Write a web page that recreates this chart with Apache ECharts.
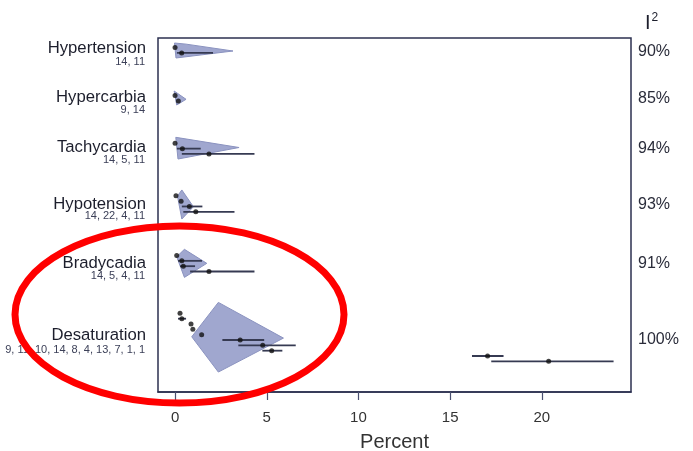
<!DOCTYPE html>
<html>
<head>
<meta charset="utf-8">
<script src="https://cdn.jsdelivr.net/npm/echarts@6/dist/echarts.min.js"></script>
<style>
html,body{margin:0;padding:0;background:#fff;}
#c{width:693px;height:451px;}
</style>
</head>
<body>
<div id="c"></div>
<script>
// ---- data ----
const groups = ['Hypertension','Hypercarbia','Tachycardia','Hypotension','Bradycadia','Desaturation'];
const studyLabels = ['14, 11','9, 14','14, 5, 11','14, 22, 4, 11','14, 5, 4, 11','9, 11, 10, 14, 8, 4, 13, 7, 1, 1'];
const i2Labels = ['90%','85%','94%','93%','91%','100%'];
const xTicks = [0, 5, 10, 15, 20];
const groupStartRow = [1.8, 10.8, 19.75, 29.6, 40.8, 51.65];
const estimates = [
  [0.0, 0.36],
  [0.0, 0.18],
  [0.0, 0.4, 1.85],
  [0.05, 0.33, 0.78, 1.13],
  [0.09, 0.37, 0.45, 1.85],
  [0.27, 0.37, 0.87, 0.97, 1.45, 3.55, 4.78, 5.27, 17.04, 20.37]
];
const lowerCI = [
  [0.0, 0.1],
  [0.0, 0.18],
  [0.0, 0.1, 0.37],
  [0.05, 0.33, 0.37, 0.45],
  [0.09, 0.16, 0.27, 0.82],
  [0.27, 0.16, 0.87, 0.97, 1.45, 2.58, 3.45, 4.76, 16.19, 17.24]
];
const upperCI = [
  [0.0, 2.07],
  [0.0, 0.18],
  [0.0, 1.4, 4.33],
  [0.05, 0.33, 1.49, 3.24],
  [0.09, 1.47, 1.09, 4.33],
  [0.27, 0.6, 0.87, 0.97, 1.45, 4.86, 6.58, 5.85, 17.91, 23.91]
];
const polyHypertension = [[-0.03,0.94],[0.6,1.15],[3.16,2.44],[0.05,3.75]];
const polyHypercarbia = [[-0.05,9.94],[0.6,11.5],[0.09,12.57]];
const polyTachycardia = [[0.04,18.63],[3.49,20.54],[0.16,22.7]];
const polyHypotension = [[0.37,28.5],[1.0,31.65],[0.37,33.96],[0.13,29.64]];
const polyBradycadia = [[0.51,39.64],[1.73,42.27],[0.51,44.9],[0.09,41.03]];
const polyDesaturation = [[2.36,49.59],[5.91,56.29],[2.36,62.66],[0.91,56.04]];
const polygons = [polyHypertension, polyHypercarbia, polyTachycardia, polyHypotension, polyBradycadia, polyDesaturation];

// ---- build ----
const studyRows = [];
groups.forEach((g, gi) => {
  estimates[gi].forEach((e, si) => {
    studyRows.push([groupStartRow[gi] + si, e, lowerCI[gi][si], upperCI[gi][si]]);
  });
});

const chart = echarts.init(document.getElementById('c'));
const lineColor = '#363a52';
const frameColor = '#2c3150';
const FONT = '"Liberation Sans", Arial, sans-serif';
const groupNameY = [48, 97, 147, 204, 263, 335];
const subY = [62, 110, 160, 216, 276, 350];
const i2Y = [52, 99, 149, 205, 264, 340];

const graphics = [];
groups.forEach((g, gi) => {
  graphics.push({type:'text', x:146, y:groupNameY[gi], style:{text:g, align:'right', verticalAlign:'middle', font:'16.7px ' + FONT, fill:'#1c1e2c'}});
  graphics.push({type:'text', x:145, y:subY[gi], style:{text:studyLabels[gi], align:'right', verticalAlign:'middle', font:'11px ' + FONT, fill:'#3c4058'}});
  graphics.push({type:'text', x:638, y:i2Y[gi], style:{text:i2Labels[gi], align:'left', verticalAlign:'middle', font:'16px ' + FONT, fill:'#2a2c3a'}});
});
graphics.push({type:'text', x:645, y:23, style:{text:'{a|I}{b|2}', align:'left', verticalAlign:'middle', rich:{a:{font:'20px ' + FONT, fill:'#1c1e2c'}, b:{font:'12px ' + FONT, fill:'#1c1e2c', verticalAlign:'top', padding:[0,0,10,1]}}}});
graphics.push({type:'ellipse', shape:{cx:179.5, cy:314.5, rx:164.5, ry:88.5}, style:{fill:'none', stroke:'#ff0000', lineWidth:7}, z:100});

chart.setOption({
  animation: false,
  grid: {left:158, top:38, right:62, bottom:59, show:true, borderColor:frameColor, borderWidth:1.5, backgroundColor:'transparent', containLabel:false, outerBoundsMode:'none'},
  xAxis: {
    type:'value', min:-0.93, max:24.86,
    axisLine:{show:true, onZero:false, lineStyle:{color:frameColor, width:1.5}},
    axisTick:{show:true, customValues:xTicks, length:8, lineStyle:{color:'#4a5070', width:1.2}},
    axisLabel:{customValues:xTicks, margin:18, fontSize:15, color:'#333', fontFamily:FONT},
    splitLine:{show:false},
    name:'Percent', nameLocation:'middle', nameGap:40,
    nameTextStyle:{fontSize:20, color:'#333', fontFamily:FONT}
  },
  yAxis: {
    type:'value', min:0, max:66.4, inverse:true,
    axisLine:{show:false}, axisTick:{show:false}, axisLabel:{show:false}, splitLine:{show:false}
  },
  series: [
    {
      type:'custom',
      data: polygons.map((p, i) => [i]),
      renderItem: (params, api) => {
        const pts = polygons[params.dataIndex].map(pt => api.coord(pt));
        return {type:'polygon', shape:{points:pts}, style:{fill:'#a0a7cf', stroke:'#8a92bf', lineWidth:1}};
      },
      z: 2
    },
    {
      type:'custom',
      data: studyRows,
      renderItem: (params, api) => {
        const y = api.value(0);
        const p1 = api.coord([api.value(2), y]);
        const p2 = api.coord([api.value(3), y]);
        return {type:'line', shape:{x1:p1[0], y1:p1[1], x2:p2[0], y2:p2[1]}, style:{stroke:lineColor, lineWidth:1.8}};
      },
      z: 3
    },
    {
      type:'scatter',
      data: studyRows.map(r => [r[1], r[0]]),
      symbol:'circle', symbolSize:5,
      itemStyle:{color:'#111'},
      z: 4
    }
  ],
  graphic: graphics
});
</script>
</body>
</html>
